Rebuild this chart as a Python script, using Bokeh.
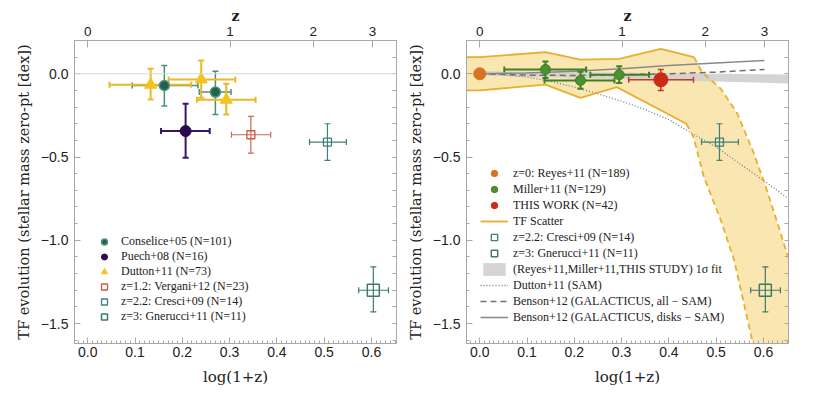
import numpy as np
from bokeh.plotting import figure
from bokeh.models import (Range1d, LinearAxis, FixedTicker, Legend, LegendItem, Span)
from bokeh.layouts import row
from bokeh.embed import file_html
from bokeh.resources import INLINE

# ---------------- data ----------------
x_ticks = [0.0, 0.1, 0.2, 0.3, 0.4, 0.5, 0.6]
x_tick_labels = ["0.0", "0.1", "0.2", "0.3", "0.4", "0.5", "0.6"]
y_ticks = [0.0, -0.5, -1.0, -1.5]
y_tick_labels = ["0.0", "\u22120.5", "\u22121.0", "\u22121.5"]
z_ticks = [0, 1, 2, 3]
z_tick_labels = ["0", "1", "2", "3"]

# left panel samples
cons_x = [0.162, 0.270]
cons_y = [-0.070, -0.110]
cons_xlo = [0.094, 0.236]
cons_xhi = [0.233, 0.303]
cons_ylo = [-0.194, -0.244]
cons_yhi = [0.050, 0.016]

puech_x = [0.207]
puech_y = [-0.344]
puech_xlo = [0.155]
puech_xhi = [0.258]
puech_ylo = [-0.504]
puech_yhi = [-0.180]

dutton_x = [0.133, 0.240, 0.293]
dutton_y = [-0.066, -0.034, -0.156]
dutton_xlo = [0.046, 0.171, 0.231]
dutton_xhi = [0.219, 0.312, 0.355]
dutton_ylo = [-0.154, -0.144, -0.244]
dutton_yhi = [0.030, 0.080, -0.060]

vergani_x = [0.345]
vergani_y = [-0.366]
vergani_xlo = [0.304]
vergani_xhi = [0.387]
vergani_ylo = [-0.476]
vergani_yhi = [-0.256]

cresci_x = [0.507]
cresci_y = [-0.410]
cresci_xlo = [0.469]
cresci_xhi = [0.547]
cresci_ylo = [-0.520]
cresci_yhi = [-0.300]

gner_x = [0.604]
gner_y = [-1.300]
gner_xlo = [0.573]
gner_xhi = [0.636]
gner_ylo = [-1.430]
gner_yhi = [-1.160]

# right panel samples
reyes_x = [0.0]
reyes_y = [0.0]

miller_x = [0.139, 0.213, 0.295]
miller_y = [0.026, -0.040, -0.006]
miller_xlo = [0.052, 0.137, 0.234]
miller_xhi = [0.225, 0.285, 0.358]
miller_ylo = [-0.025, -0.090, -0.056]
miller_yhi = [0.074, 0.012, 0.046]

tw_x = [0.383]
tw_y = [-0.036]
tw_xlo = [0.315]
tw_xhi = [0.452]
tw_ylo = [-0.100]
tw_yhi = [0.026]

# TF scatter band boundaries
tf_up_x = [-0.03, 0.0, 0.139, 0.213, 0.295, 0.383, 0.453]
tf_up_y = [0.10, 0.10, 0.13, 0.085, 0.09, 0.15, 0.10]
tf_up2_x = [0.453, 0.47, 0.51, 0.545, 0.58, 0.605, 0.63, 0.66, 0.72]
tf_up2_y = [0.10, 0.01, -0.09, -0.24, -0.48, -0.68, -0.90, -1.17, -1.68]
tf_lo_x = [-0.03, 0.0, 0.139, 0.213, 0.290, 0.437]
tf_lo_y = [-0.10, -0.10, -0.065, -0.145, -0.080, -0.300]
tf_lo2_x = [0.437, 0.452, 0.474, 0.51, 0.538, 0.573, 0.585]
tf_lo2_y = [-0.30, -0.38, -0.62, -0.88, -1.12, -1.56, -1.72]

# 1-sigma fit band
fit_x = [0.0, 0.66]
fit_lo = [-0.010, -0.058]
fit_hi = [0.015, -0.004]

# SAM curves
dut_sam_x = [0.0, 0.05, 0.10, 0.15, 0.20, 0.25, 0.30, 0.35, 0.40, 0.45, 0.50, 0.55, 0.60, 0.66]
dut_sam_y = [0.0, -0.005, -0.02, -0.045, -0.08, -0.12, -0.165, -0.215, -0.275, -0.36, -0.44, -0.54, -0.64, -0.765]
ben_all_x = [0.0, 0.1, 0.2, 0.3, 0.4, 0.5, 0.602]
ben_all_y = [0.0, -0.008, -0.01, -0.005, 0.0, 0.01, 0.026]
ben_disk_x = [0.0, 0.1, 0.2, 0.3, 0.4, 0.5, 0.602]
ben_disk_y = [0.0, 0.005, 0.015, 0.03, 0.05, 0.065, 0.08]

# ---------------- style ----------------
TICK_FONT = "Liberation Sans"
LABEL_FONT = "DejaVu Serif"
LEG_FONT = "Liberation Serif"
AXIS_GRAY = "#a8a8a8"

C_CONS_FILL, C_CONS_LINE = "#24614f", "#4f9479"
C_PUECH = "#2b0b4d"
C_DUTTON = "#f2c41c"
C_DUTTON_ERR = "#e8b928"
C_VERG = "#c95a45"
C_CRESCI = "#3f7f7c"
C_GNER = "#3f7a6a"
C_REYES = "#d8741f"
C_MILLER, C_MILLER_ERR = "#4c9130", "#3f7f2a"
C_TW = "#c92b16"
C_BAND_FILL, C_BAND_LINE = "#f9e6b0", "#e6b02e"

Y_MINOR = list(np.round(np.arange(-1.6, 0.21, 0.1), 2))
X_MINOR = list(np.round(np.arange(-0.02, 0.66, 0.01), 3))


def style_axis(ax):
    ax.axis_line_color = AXIS_GRAY
    ax.major_tick_line_color = AXIS_GRAY
    ax.minor_tick_line_color = AXIS_GRAY
    ax.major_tick_in = 6
    ax.major_tick_out = 0
    ax.minor_tick_in = 3
    ax.minor_tick_out = 0
    ax.major_label_text_font = TICK_FONT
    ax.axis_label_text_font = LABEL_FONT
    ax.axis_label_text_font_style = "normal"
    ax.axis_label_text_color = "#222222"
    ax.major_label_text_color = "#222222"


def make_fig(border_left, border_right):
    p = figure(frame_width=322, frame_height=303,
               x_range=Range1d(-0.028, 0.653), y_range=Range1d(-1.62, 0.2),
               min_border_left=border_left, min_border_right=border_right,
               min_border_top=40, min_border_bottom=46,
               output_backend="svg", toolbar_location=None,
               background_fill_color="white", border_fill_color="white")
    p.grid.visible = False
    p.outline_line_color = AXIS_GRAY

    xa = p.xaxis[0]
    xa.ticker = FixedTicker(ticks=x_ticks, minor_ticks=X_MINOR)
    xa.major_label_overrides = {t: s for t, s in zip(x_ticks, x_tick_labels)}
    xa.axis_label = "log(1+z)"
    ya = p.yaxis[0]
    ya.ticker = FixedTicker(ticks=y_ticks, minor_ticks=Y_MINOR)
    ya.major_label_overrides = {t: s for t, s in zip(y_ticks, y_tick_labels)}
    ya.axis_label = "TF evolution (stellar mass zero-pt [dex])"

    z_pos = [float(np.log10(1 + z)) for z in z_ticks]
    za = LinearAxis(ticker=FixedTicker(ticks=z_pos, minor_ticks=[]), axis_label="z")
    za.major_label_overrides = {t: s for t, s in zip(z_pos, z_tick_labels)}
    p.add_layout(za, "above")

    # right frame edge: tick marks only (no major ticks -> no labels)
    ra = LinearAxis(ticker=FixedTicker(ticks=[], minor_ticks=Y_MINOR))
    p.add_layout(ra, "right")

    for ax in (xa, ya, za, ra):
        style_axis(ax)
    ra.minor_tick_in = 4
    for ax in (xa, ya):
        ax.major_label_text_font_size = "14px"
    ya.axis_label_text_font_size = "14.5px"
    xa.axis_label_text_font_size = "15px"
    xa.major_label_standoff = 3
    xa.axis_label_standoff = 8
    ya.major_label_standoff = 6
    ya.axis_label_standoff = 6
    za.major_label_text_font_size = "13.5px"
    za.major_label_standoff = 5
    za.axis_label_standoff = 0
    za.axis_label_text_font_size = "14px"
    za.axis_label_text_font_style = "bold"
    za.major_tick_in = 7
    return p


def errbars(p, x, y, xlo, xhi, ylo, yhi, color, width, cap=6):
    p.segment(x0=x, y0=ylo, x1=x, y1=yhi, line_color=color, line_width=width)
    p.segment(x0=xlo, y0=y, x1=xhi, y1=y, line_color=color, line_width=width)
    p.scatter(x=list(x) + list(x), y=list(ylo) + list(yhi), marker="dash", size=cap,
              line_color=color, line_width=width)
    p.scatter(x=list(xlo) + list(xhi), y=list(y) + list(y), marker="dash", size=cap,
              angle=np.pi / 2, line_color=color, line_width=width)


def styled_legend(items, glyph_w, row_h, standoff, loc):
    return Legend(items=items, location=loc, padding=0, margin=0, spacing=0,
                  glyph_width=glyph_w, glyph_height=row_h, label_height=row_h,
                  label_standoff=standoff, label_text_font=LEG_FONT,
                  label_text_font_size="12px", label_text_color="#222222",
                  label_text_line_height=1.0,
                  background_fill_alpha=0, border_line_alpha=0)


# ---------------- left panel ----------------
p1 = make_fig(74, 8)
p1.add_layout(Span(location=0.0, dimension="width", line_color="#d8d8d8", line_width=1))

errbars(p1, cons_x, cons_y, cons_xlo, cons_xhi, cons_ylo, cons_yhi, "#4a8f78", 1.5)
errbars(p1, dutton_x, dutton_y, dutton_xlo, dutton_xhi, dutton_ylo, dutton_yhi, C_DUTTON_ERR, 2)
errbars(p1, puech_x, puech_y, puech_xlo, puech_xhi, puech_ylo, puech_yhi, "#3a1560", 2)
errbars(p1, vergani_x, vergani_y, vergani_xlo, vergani_xhi, vergani_ylo, vergani_yhi, "#c96a55", 1.2)
errbars(p1, cresci_x, cresci_y, cresci_xlo, cresci_xhi, cresci_ylo, cresci_yhi, C_CRESCI, 1.2)
errbars(p1, gner_x, gner_y, gner_xlo, gner_xhi, gner_ylo, gner_yhi, C_GNER, 1.2)

r_cons = p1.scatter(cons_x, cons_y, marker="circle", size=10, fill_color=C_CONS_FILL,
                    line_color=C_CONS_LINE, line_width=1.5)
r_puech = p1.scatter(puech_x, puech_y, marker="circle", size=11, fill_color=C_PUECH, line_color=C_PUECH)
r_dutton = p1.scatter(dutton_x, dutton_y, marker="triangle", size=12, fill_color=C_DUTTON,
                      line_color=C_DUTTON)
r_verg = p1.scatter(vergani_x, vergani_y, marker="square", size=8, fill_color=None,
                    line_color=C_VERG, line_width=1.3)
r_cresci = p1.scatter(cresci_x, cresci_y, marker="square", size=8, fill_color=None,
                      line_color=C_CRESCI, line_width=1.3)
r_gner = p1.scatter(gner_x, gner_y, marker="square", size=12, fill_color=None,
                    line_color=C_GNER, line_width=1.5)

leg1 = styled_legend([
    LegendItem(label="Conselice+05 (N=101)", renderers=[r_cons]),
    LegendItem(label="Puech+08 (N=16)", renderers=[r_puech]),
    LegendItem(label="Dutton+11 (N=73)", renderers=[r_dutton]),
    LegendItem(label="z=1.2: Vergani+12 (N=23)", renderers=[r_verg]),
    LegendItem(label="z=2.2: Cresci+09 (N=14)", renderers=[r_cresci]),
    LegendItem(label="z=3: Gnerucci+11 (N=11)", renderers=[r_gner]),
], 20, 15, 7, (20, 19))
p1.add_layout(leg1)

# ---------------- right panel ----------------
p2 = make_fig(59, 16)

band_x = tf_up_x + tf_up2_x[1:] + tf_lo2_x[::-1] + tf_lo_x[::-1][1:]
band_y = tf_up_y + tf_up2_y[1:] + tf_lo2_y[::-1] + tf_lo_y[::-1][1:]
p2.patch(band_x, band_y, fill_color=C_BAND_FILL, line_color=None)

r_fit = p2.varea(x=fit_x, y1=fit_lo, y2=fit_hi, fill_color="#cfcfcf", fill_alpha=0.9)
r_dsam = p2.line(dut_sam_x, dut_sam_y, line_color="#6f7f8f", line_width=1.3, line_dash="1 2")
r_ball = p2.line(ben_all_x, ben_all_y, line_color="#707070", line_width=1.5, line_dash="6 4")
r_bdisk = p2.line(ben_disk_x, ben_disk_y, line_color="#8a8a8a", line_width=1.6)

r_tf = p2.line(tf_up_x, tf_up_y, line_color=C_BAND_LINE, line_width=1.8)
p2.line(tf_lo_x, tf_lo_y, line_color=C_BAND_LINE, line_width=1.8)
p2.line(tf_up2_x, tf_up2_y, line_color=C_BAND_LINE, line_width=1.8, line_dash="6 4")
p2.line(tf_lo2_x, tf_lo2_y, line_color=C_BAND_LINE, line_width=1.8, line_dash="6 4")

errbars(p2, miller_x, miller_y, miller_xlo, miller_xhi, miller_ylo, miller_yhi, C_MILLER_ERR, 2)
errbars(p2, tw_x, tw_y, tw_xlo, tw_xhi, tw_ylo, tw_yhi, "#c83a28", 1.5)
errbars(p2, cresci_x, cresci_y, cresci_xlo, cresci_xhi, cresci_ylo, cresci_yhi, C_CRESCI, 1.2)
errbars(p2, gner_x, gner_y, gner_xlo, gner_xhi, gner_ylo, gner_yhi, C_GNER, 1.2)

r_reyes = p2.scatter(reyes_x, reyes_y, marker="circle", size=12, fill_color=C_REYES, line_color=C_REYES)
r_miller = p2.scatter(miller_x, miller_y, marker="circle", size=10, fill_color=C_MILLER,
                      line_color=C_MILLER_ERR)
r_tw = p2.scatter(tw_x, tw_y, marker="circle", size=14, fill_color=C_TW, line_color=C_TW)
r_cresci2 = p2.scatter(cresci_x, cresci_y, marker="square", size=8, fill_color=None,
                       line_color=C_CRESCI, line_width=1.3)
r_gner2 = p2.scatter(gner_x, gner_y, marker="square", size=12, fill_color=None,
                     line_color=C_GNER, line_width=1.5)

leg2 = styled_legend([
    LegendItem(label="z=0: Reyes+11 (N=189)", renderers=[r_reyes]),
    LegendItem(label="Miller+11 (N=129)", renderers=[r_miller]),
    LegendItem(label="THIS WORK (N=42)", renderers=[r_tw]),
    LegendItem(label="TF Scatter", renderers=[r_tf]),
    LegendItem(label="z=2.2: Cresci+09 (N=14)", renderers=[r_cresci2]),
    LegendItem(label="z=3: Gnerucci+11 (N=11)", renderers=[r_gner2]),
    LegendItem(label="(Reyes+11,Miller+11,THIS STUDY) 1\u03c3 fit", renderers=[r_fit]),
    LegendItem(label="Dutton+11 (SAM)", renderers=[r_dsam]),
    LegendItem(label="Benson+12 (GALACTICUS, all \u2212 SAM)", renderers=[r_ball]),
    LegendItem(label="Benson+12 (GALACTICUS, disks \u2212 SAM)", renderers=[r_bdisk]),
], 28, 16, 5, (14, 18))
p2.add_layout(leg2)

layout = row(p1, p2)
open("out.html", "w").write(file_html(layout, INLINE))
